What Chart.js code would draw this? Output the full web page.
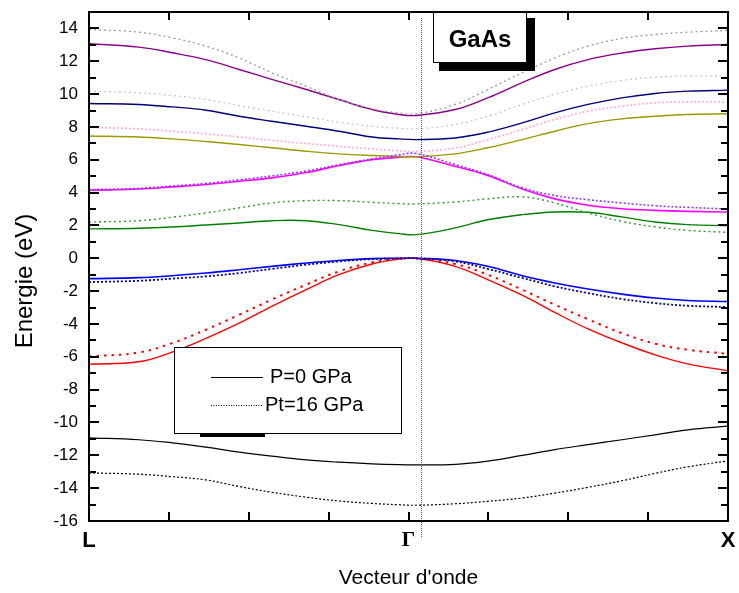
<!DOCTYPE html>
<html>
<head>
<meta charset="utf-8">
<script src="https://cdn.jsdelivr.net/npm/chart.js@4.4.0/dist/chart.umd.min.js"></script>
<style>
  body { margin: 0; background: #fff; }
</style>
</head>
<body>
<canvas id="bands" width="739" height="593"></canvas>
<script>
// k-path: L = 0, Gamma ~ 0.512, X = 1
const kPath = [0, 0.078, 0.130, 0.183, 0.235, 0.286, 0.340, 0.391, 0.443, 0.485, 0.512,
               0.573, 0.624, 0.678, 0.729, 0.781, 0.834, 0.886, 0.937, 1];
const kLabels = { 0: 'L', 0.5: 'Γ', 1: 'X' };
const gammaLine = 0.52;

// P = 0 GPa (solid)
const deepP0    = [-10.94, -11.05, -11.24, -11.5, -11.8, -12.05, -12.28, -12.42, -12.52, -12.57, -12.58,
                   -12.55, -12.35, -12.0, -11.65, -11.35, -11.05, -10.75, -10.45, -10.22];
const redP0     = [-6.45, -6.3, -5.72, -4.88, -3.95, -2.93, -1.91, -1.0, -0.35, -0.05, 0,
                   -0.49, -1.3, -2.25, -3.3, -4.3, -5.15, -5.88, -6.43, -6.85];
const blueP0    = [-1.24, -1.18, -1.06, -0.9, -0.7, -0.49, -0.29, -0.13, -0.02, 0, 0,
                   -0.13, -0.49, -1.06, -1.5, -1.87, -2.18, -2.42, -2.57, -2.63];
const greenP0   = [1.79, 1.83, 1.91, 2.03, 2.15, 2.29, 2.29, 2.05, 1.7, 1.5, 1.44,
                   1.85, 2.35, 2.66, 2.82, 2.8, 2.52, 2.21, 2.05, 1.99];
const magentaP0 = [4.14, 4.22, 4.35, 4.49, 4.69, 4.9, 5.22, 5.65, 6.01, 6.15, 6.18,
                   5.6, 5.05, 4.22, 3.62, 3.23, 3.02, 2.92, 2.86, 2.82];
const oliveP0   = [7.45, 7.39, 7.27, 7.11, 6.93, 6.73, 6.52, 6.36, 6.26, 6.2, 6.18,
                   6.36, 6.73, 7.23, 7.74, 8.2, 8.49, 8.65, 8.76, 8.8];
const navyP0    = [9.43, 9.37, 9.22, 9.02, 8.65, 8.35, 8.04, 7.74, 7.39, 7.27, 7.23,
                   7.33, 7.68, 8.25, 8.86, 9.37, 9.77, 10.04, 10.18, 10.24];
const purpleP0  = [13.07, 12.86, 12.52, 12.1, 11.5, 10.9, 10.28, 9.67, 9.06, 8.76, 8.7,
                   9.06, 9.77, 10.7, 11.5, 12.1, 12.5, 12.76, 12.92, 13.02];

// Pt = 16 GPa (dotted)
const deepP16   = [-13.07, -13.15, -13.3, -13.5, -13.9, -14.25, -14.55, -14.78, -14.93, -15.01, -15.04,
                   -14.95, -14.8, -14.6, -14.3, -13.95, -13.55, -13.1, -12.7, -12.34];
const redP16    = [-5.98, -5.74, -5.17, -4.35, -3.44, -2.52, -1.6, -0.8, -0.25, -0.03, 0,
                   -0.35, -1.0, -1.91, -2.83, -3.71, -4.56, -5.2, -5.57, -5.82];
const blueP16   = [-1.45, -1.37, -1.24, -1.1, -0.9, -0.65, -0.39, -0.19, -0.05, -0.01, 0,
                   -0.19, -0.65, -1.2, -1.71, -2.12, -2.48, -2.73, -2.89, -2.97];
const greenP16  = [2.21, 2.29, 2.5, 2.76, 3.07, 3.37, 3.51, 3.51, 3.41, 3.33, 3.31,
                   3.43, 3.62, 3.74, 3.37, 2.76, 2.25, 1.91, 1.7, 1.58];
const violetP16 = [4.18, 4.26, 4.4, 4.56, 4.78, 5.02, 5.32, 5.7, 6.05, 6.3, 6.38,
                   5.71, 5.1, 4.29, 3.82, 3.57, 3.37, 3.2, 3.1, 3.0];
const pinkP16   = [7.98, 7.88, 7.74, 7.58, 7.39, 7.19, 6.99, 6.82, 6.66, 6.55, 6.5,
                   6.72, 7.23, 7.84, 8.45, 8.96, 9.26, 9.47, 9.53, 9.53];
const grayP16   = [10.18, 10.08, 9.91, 9.67, 9.3, 8.96, 8.62, 8.29, 8.04, 7.92, 7.88,
                   8.15, 8.65, 9.37, 9.98, 10.48, 10.83, 11.03, 11.1, 11.1];
const topP16    = [13.94, 13.77, 13.43, 12.92, 12.2, 11.3, 10.48, 9.67, 9.1, 8.85, 8.8,
                   9.37, 10.28, 11.3, 12.2, 12.92, 13.39, 13.63, 13.77, 13.88];

function band(values, color, dash, width) {
    return {
        data: values.map((v, i) => ({ x: kPath[i], y: v })),
        borderColor: color,
        borderWidth: width || 1.4,
        borderDash: dash || [],
        pointRadius: 0,
        tension: 0.4,
        fill: false
    };
}

const datasets = [
    band(topP16, '#9a9a9a', [2, 3], 1.3),
    band(grayP16, '#c8c8c8', [2, 3], 1.3),
    band(pinkP16, '#ffb0dc', [2, 2], 1.8),
    band(violetP16, '#8c3cff', [2, 2], 1.6),
    band(greenP16, '#2e9a2e', [2, 3], 1.4),
    band(blueP16, '#000099', [2, 2], 1.8),
    band(redP16, '#ff0000', [2.5, 5], 2),
    band(deepP16, '#000000', [2, 2], 1.2),
    band(purpleP0, '#8b008b'),
    band(navyP0, '#000080'),
    band(oliveP0, '#9a9a00'),
    band(magentaP0, '#ff00ff', [], 1.6),
    band(greenP0, '#008000'),
    band(blueP0, '#0000ff', [], 1.6),
    band(redP0, '#ff0000'),
    band(deepP0, '#000000', [], 1.2)
];

// frame, inward ticks, Gamma marker line, GaAs label, legend box
const decorations = {
    id: 'decorations',
    afterDatasetsDraw(chart) {
        const { ctx, chartArea: a, scales: { x, y } } = chart;
        ctx.save();

        // dotted vertical line near Gamma
        const gx = Math.round(x.getPixelForValue(gammaLine)) + 0.5;
        ctx.strokeStyle = '#555';
        ctx.lineWidth = 1;
        ctx.setLineDash([1, 1]);
        ctx.beginPath();
        ctx.moveTo(gx, a.top + 6);
        ctx.lineTo(gx, a.bottom + 16);
        ctx.stroke();
        ctx.setLineDash([]);

        // frame
        ctx.strokeStyle = '#000';
        ctx.lineWidth = 2;
        ctx.strokeRect(a.left, a.top, a.right - a.left, a.bottom - a.top);

        // y ticks (left and right, inward)
        for (let v = -16; v <= 15; v++) {
            const py = Math.round(y.getPixelForValue(v));
            const len = v % 2 === 0 ? 10 : 7;
            ctx.beginPath();
            ctx.moveTo(a.left, py); ctx.lineTo(a.left + len, py);
            ctx.moveTo(a.right, py); ctx.lineTo(a.right - len, py);
            ctx.stroke();
        }
        // x ticks (top and bottom, inward)
        for (let v = 0.125; v < 1; v += 0.125) {
            const px = Math.round(x.getPixelForValue(v));
            ctx.beginPath();
            ctx.moveTo(px, a.bottom); ctx.lineTo(px, a.bottom - 9);
            ctx.moveTo(px, a.top); ctx.lineTo(px, a.top + 8);
            ctx.stroke();
        }

        // GaAs box with drop shadow
        ctx.fillStyle = '#000';
        ctx.fillRect(439, 18, 96, 53);
        ctx.fillStyle = '#fff';
        ctx.fillRect(433, 12, 94, 51);
        ctx.lineWidth = 1;
        ctx.strokeRect(433.5, 12.5, 93, 50);
        ctx.fillStyle = '#000';
        ctx.font = 'bold 24px "Liberation Sans", Arial, sans-serif';
        ctx.textAlign = 'center';
        ctx.textBaseline = 'middle';
        ctx.fillText('GaAs', 480, 40);

        // legend box
        ctx.fillStyle = '#000';
        ctx.fillRect(200, 434, 65, 3);
        ctx.fillStyle = '#fff';
        ctx.fillRect(174, 347, 228, 87);
        ctx.strokeStyle = '#000';
        ctx.lineWidth = 1;
        ctx.strokeRect(174.5, 347.5, 227, 86);
        ctx.beginPath();
        ctx.moveTo(211, 377.5); ctx.lineTo(263, 377.5);
        ctx.stroke();
        ctx.setLineDash([1, 1.5]);
        ctx.beginPath();
        ctx.moveTo(211, 405.5); ctx.lineTo(262, 405.5);
        ctx.stroke();
        ctx.setLineDash([]);
        ctx.fillStyle = '#000';
        ctx.font = '20px "Liberation Sans", Arial, sans-serif';
        ctx.textAlign = 'left';
        ctx.fillText('P=0 GPa', 270, 377);
        ctx.fillText('Pt=16 GPa', 265, 405);

        // y axis title
        ctx.translate(25, 281);
        ctx.rotate(-Math.PI / 2);
        ctx.textAlign = 'center';
        ctx.font = '24px "Liberation Sans", Arial, sans-serif';
        ctx.fillText('Energie (eV)', 0, 0);

        ctx.restore();
    }
};

new Chart(document.getElementById('bands'), {
    type: 'line',
    data: { datasets: datasets },
    options: {
        responsive: false,
        animation: false,
        layout: { padding: { left: 0, right: 11, top: 12, bottom: 0 } },
        plugins: { legend: { display: false }, tooltip: { enabled: false } },
        scales: {
            x: {
                type: 'linear',
                min: 0,
                max: 1,
                grid: { display: false, drawTicks: false },
                border: { display: false },
                ticks: {
                    stepSize: 0.5,
                    padding: 7,
                    color: '#000',
                    maxRotation: 0,
                    autoSkip: false,
                    font: (c) => (c.tick && c.tick.value === 0.5)
                        ? { family: '"Liberation Serif", serif', size: 21, weight: 'bold' }
                        : { family: '"Liberation Sans", Arial, sans-serif', size: 22, weight: 'bold' },
                    callback: (v) => kLabels[v] || ''
                },
                title: {
                    display: true,
                    text: "Vecteur d'onde",
                    color: '#000',
                    font: { family: '"Liberation Sans", Arial, sans-serif', size: 21, lineHeight: 1.2 },
                    padding: { top: 0, bottom: 2 }
                },
                afterFit: (s) => { s.height = 72; s.paddingLeft = 0; s.paddingRight = 0; }
            },
            y: {
                min: -16,
                max: 15,
                grid: { display: false, drawTicks: false },
                border: { display: false },
                ticks: {
                    stepSize: 2,
                    includeBounds: false,
                    padding: 11,
                    color: '#000',
                    font: { family: '"Liberation Sans", Arial, sans-serif', size: 17 },
                    callback: (v) => v % 2 === 0 ? v : ''
                },
                afterFit: (s) => { s.width = 89; s.paddingTop = 0; s.paddingBottom = 0; }
            }
        }
    },
    plugins: [decorations]
});
</script>
</body>
</html>
